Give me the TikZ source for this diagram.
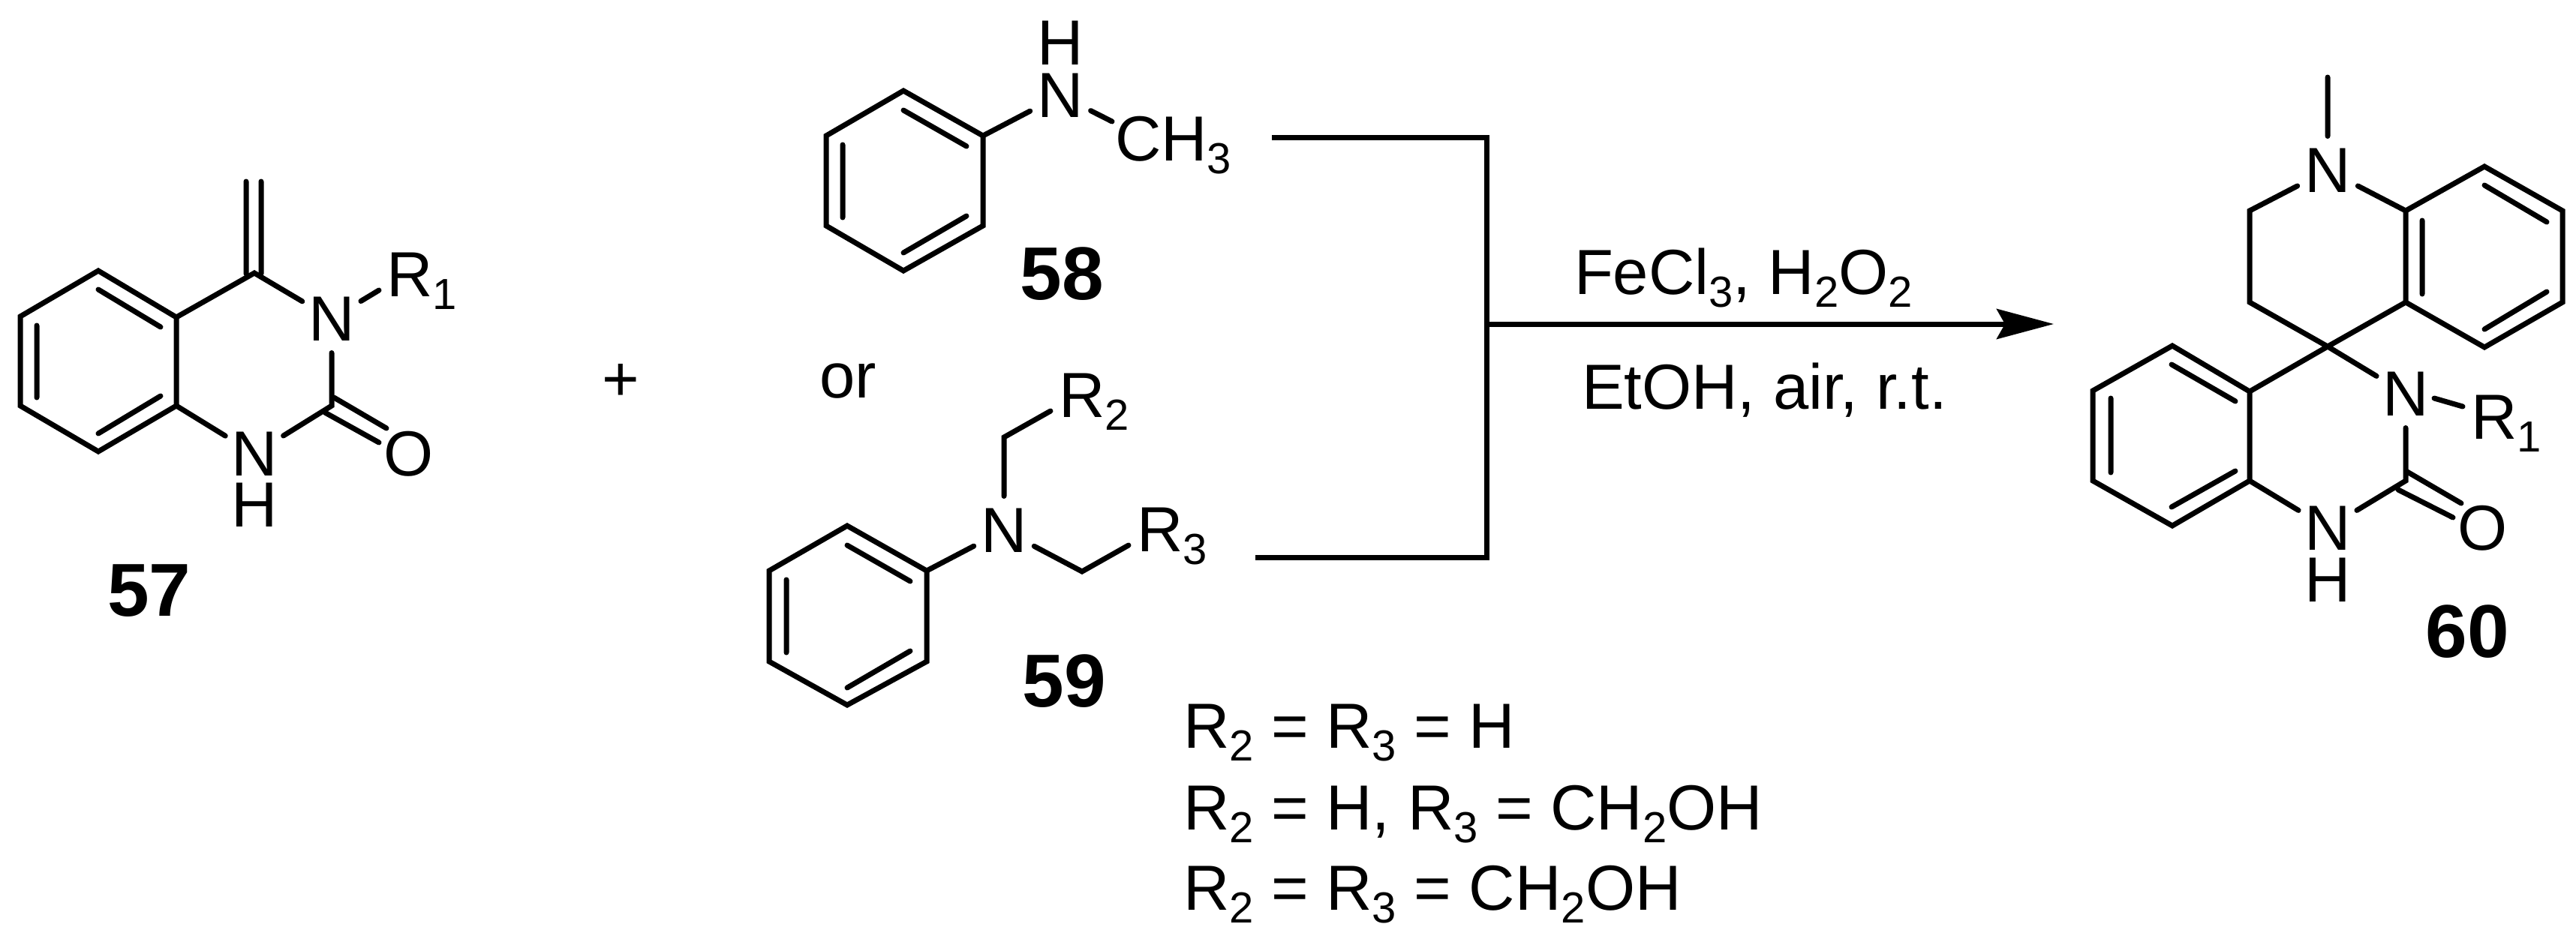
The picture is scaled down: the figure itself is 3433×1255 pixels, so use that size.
\documentclass[tikz,border=0pt]{standalone}
\usepackage{fontspec}
\setmainfont{Liberation Sans}
\usetikzlibrary{arrows.meta}
\newcommand{\subd}[1]{\raisebox{-17pt}{\fontsize{58}{58}\selectfont #1}}
\tikzset{
  bond/.style={line width=7pt,line cap=round,line join=miter,miter limit=10},
  brk/.style={line width=7pt,line cap=butt,line join=miter},
  atom/.style={circle,inner sep=0pt,outer sep=0pt,minimum size=91pt,font=\fontsize{85}{85}\selectfont},
  lbl/.style={inner sep=0pt,outer sep=0pt,anchor=base west,font=\fontsize{85}{85}\selectfont},
  cpd/.style={inner sep=0pt,outer sep=0pt,font=\fontsize{100}{100}\selectfont\bfseries},
}
\begin{document}
\begin{tikzpicture}[x=1pt,y=-1pt]
\useasboundingbox (0,0) rectangle (3433,1255);
% ---------- 57
\coordinate (a1) at (131,361);\coordinate (a2) at (235,423);\coordinate (a3) at (235,541);
\coordinate (a4) at (131,602);\coordinate (a5) at (27,541);\coordinate (a6) at (27,422);
\coordinate (a7) at (339,364);\coordinate (a8) at (442,541);
\coordinate (ai1) at (131,386);\coordinate (ai2) at (214,436);\coordinate (ai3) at (214,528);
\coordinate (ai4) at (131,578);\coordinate (ai5) at (49,434);\coordinate (ai6) at (49,530);
\coordinate (ae1) at (328,365);\coordinate (ae2) at (328,242);\coordinate (ae3) at (348,365);\coordinate (ae4) at (348,242);
\coordinate (ao1) at (445,530);\coordinate (ao2) at (515,571);\coordinate (ao3) at (433,550);\coordinate (ao4) at (505,590);
\coordinate (ar) at (505,387);
\node[atom] (an3) at (442,425) {N};
\node[atom] (an1) at (339,605) {N};
\node[atom] (ah1) at (339,673) {H};
\node[atom] (ao) at (545,605) {O};
\node[lbl] (ar1) at (515,395) {R\subd{1}};
\draw[bond] (a1)--(a2)--(a3)--(a4)--(a5)--(a6)--cycle;
\draw[bond] (ai1)--(ai2) (ai3)--(ai4) (ai5)--(ai6);
\draw[bond] (a2)--(a7)--(an3) (an3)--(a8)--(an1)--(a3) (an3)--(ar);
\draw[bond] (ae1)--(ae2) (ae3)--(ae4) (ao1)--(ao2) (ao3)--(ao4);
\node[cpd] (c57) at (199,788) {57};
\node[atom] (plus) at (827,510) {+};
% ---------- 58
\coordinate (b1) at (1204,121);\coordinate (b2) at (1310,181);\coordinate (b3) at (1310,301);
\coordinate (b4) at (1204,361);\coordinate (b5) at (1101,301);\coordinate (b6) at (1101,181);
\coordinate (bi1) at (1204,147);\coordinate (bi2) at (1288,195);\coordinate (bi3) at (1288,288);
\coordinate (bi4) at (1204,337);\coordinate (bi5) at (1123,193);\coordinate (bi6) at (1123,290);
\coordinate (bm) at (1482,162);
\node[atom] (bn) at (1413,127) {N};
\node[atom] (bh) at (1413,57) {H};
\node[lbl] (bch3) at (1486,214) {CH\subd{3}};
\draw[bond] (b1)--(b2)--(b3)--(b4)--(b5)--(b6)--cycle;
\draw[bond] (bi1)--(bi2) (bi3)--(bi4) (bi5)--(bi6);
\draw[bond] (b2)--(bn) (bn)--(bm);
\node[cpd] (c58) at (1415,365) {58};
\node[lbl] (or) at (1092,530) {or};
% ---------- 59
\coordinate (d1) at (1129,701);\coordinate (d2) at (1235,761);\coordinate (d3) at (1235,882);
\coordinate (d4) at (1129,940);\coordinate (d5) at (1025,882);\coordinate (d6) at (1025,761);
\coordinate (di1) at (1129,727);\coordinate (di2) at (1213,775);\coordinate (di3) at (1213,868);
\coordinate (di4) at (1129,917);\coordinate (di5) at (1048,773);\coordinate (di6) at (1048,870);
\coordinate (d7) at (1338,583);\coordinate (d8) at (1400,548);\coordinate (d9) at (1442,762);\coordinate (d10) at (1504,727);
\node[atom] (dn) at (1338,707) {N};
\node[lbl] (dr2) at (1411,556) {R\subd{2}};
\node[lbl] (dr3) at (1515,735) {R\subd{3}};
\draw[bond] (d1)--(d2)--(d3)--(d4)--(d5)--(d6)--cycle;
\draw[bond] (di1)--(di2) (di3)--(di4) (di5)--(di6);
\draw[bond] (d2)--(dn) (dn)--(d7)--(d8) (dn)--(d9)--(d10);
\node[cpd] (c59) at (1418,908) {59};
% ---------- bracket and arrow
\coordinate (k1) at (1695,183);\coordinate (k2) at (1981,183);\coordinate (k3) at (1981,743);\coordinate (k4) at (1673,743);
\coordinate (k5) at (1981,432);\coordinate (k6) at (2737,432);
\draw[brk] (k1)--(k2)--(k3)--(k4);
\draw[brk,-{Stealth[length=76pt,width=40pt,inset=11pt]}] (k5)--(k6);
\node[lbl] (cond1) at (2098,392) {FeCl\subd{3}, H\subd{2}O\subd{2}};
\node[lbl] (cond2) at (2108,545) {EtOH, air, r.t.};
\node[lbl] (l1) at (1577,997) {R\subd{2} = R\subd{3} = H};
\node[lbl] (l2) at (1577,1106) {R\subd{2} = H, R\subd{3} = CH\subd{2}OH};
\node[lbl] (l3) at (1577,1213) {R\subd{2} = R\subd{3} = CH\subd{2}OH};
% ---------- 60
\coordinate (sp) at (3102,462);
\coordinate (t0) at (3102,103);\coordinate (t1) at (2998,281);\coordinate (t2) at (2998,403);
\coordinate (e1) at (3206,281);\coordinate (e2) at (3311,222);\coordinate (e3) at (3415,281);
\coordinate (e4) at (3415,403);\coordinate (e5) at (3311,463);\coordinate (e6) at (3206,403);
\coordinate (ei1) at (3311,247);\coordinate (ei2) at (3394,296);\coordinate (ei3) at (3394,389);
\coordinate (ei4) at (3311,439);\coordinate (ei5) at (3228,294);\coordinate (ei6) at (3228,392);
\coordinate (f1) at (2998,522);\coordinate (f2) at (2998,641);\coordinate (f3) at (2895,701);
\coordinate (f4) at (2789,641);\coordinate (f5) at (2789,521);\coordinate (f6) at (2895,461);
\coordinate (fi1) at (2894,486);\coordinate (fi2) at (2979,535);\coordinate (fi3) at (2979,628);
\coordinate (fi4) at (2894,676);\coordinate (fi5) at (2813,531);\coordinate (fi6) at (2813,630);
\coordinate (g1) at (3206,641);\coordinate (g2) at (3244,531);\coordinate (g3) at (3282,542);
\coordinate (go1) at (3208,629);\coordinate (go2) at (3280,671);\coordinate (go3) at (3196,653);\coordinate (go4) at (3269,690);
\node[atom] (gnt) at (3102,227) {N};
\node[atom] (gn3) at (3206,525) {N};
\node[atom] (gn1) at (3102,704) {N};
\node[atom] (gh1) at (3102,773) {H};
\node[atom] (go) at (3309,704) {O};
\node[lbl] (gr1) at (3293,585) {R\subd{1}};
\draw[bond] (e1)--(e2)--(e3)--(e4)--(e5)--(e6)--cycle;
\draw[bond] (ei1)--(ei2) (ei3)--(ei4) (ei5)--(ei6);
\draw[bond] (f1)--(f2)--(f3)--(f4)--(f5)--(f6)--cycle;
\draw[bond] (fi1)--(fi2) (fi3)--(fi4) (fi5)--(fi6);
\draw[bond] (t0)--(gnt) (gnt)--(t1)--(t2)--(sp)--(e6) (gnt)--(e1) (f1)--(sp)--(gn3);
\draw[bond] (gn3)--(g1)--(gn1)--(f2) (g2)--(g3) (go1)--(go2) (go3)--(go4);
\node[cpd] (c60) at (3288,842) {60};
\end{tikzpicture}
\end{document}
